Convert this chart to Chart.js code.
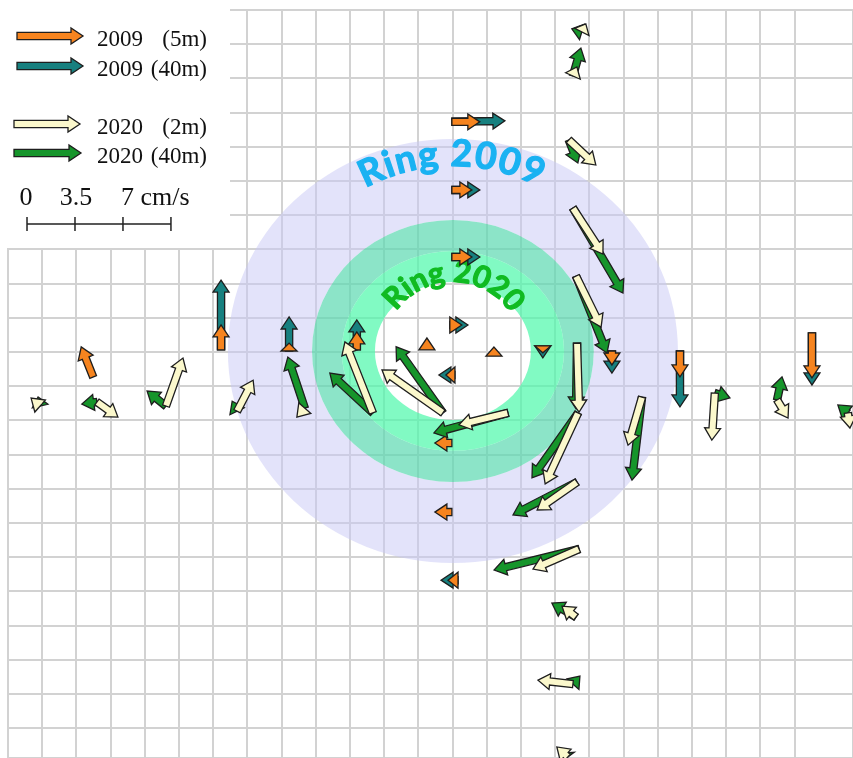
<!DOCTYPE html>
<html>
<head>
<meta charset="utf-8">
<title>Current vectors 2009 / 2020</title>
<script src="https://cdn.jsdelivr.net/npm/chart.js@4.4.1/dist/chart.umd.min.js"></script>
<style>
    html, body { margin: 0; padding: 0; background: #fff; }
    #wrap { width: 853px; height: 758px; position: relative; }
</style>
</head>
<body>
<div id="wrap"><canvas id="chart"></canvas></div>
<script>
// grid extent (cells), x from the left edge, y from the top edge
const X_MAX = 24.71;
const Y_MAX = 21.87;

// 2009 stations (grid cells) and velocities (cm/s, u = east, v = north)
const x2009 = [6.23, 8.22, 10.20, 2.49, 12.25, 12.92, 14.21, 15.64, 13.07, 12.98, 12.98, 13.16, 12.98, 12.98, 12.98, 17.66, 19.65, 23.51];
const y2009 = [9.94, 9.97, 9.94, 10.73, 9.94, 9.21, 10.12, 9.82, 10.67, 12.66, 14.68, 16.67, 3.27, 5.26, 7.22, 9.97, 9.97, 9.44];
const u2009_5m = [0, 0, 0, -0.87, 0, 0.87, 0, 0, -0.66, -1.24, -1.24, -0.73, 2.04, 1.46, 1.46, 0, 0, 0];
const v2009_5m = [1.83, 0.58, 1.32, 2.19, 0.87, 0, 0.66, -0.51, 0, 0, 0, 0, 0, 0, 0, -1.02, -1.89, -3.28];
const u2009_40m = [0, 0, 0, null, null, 1.32, null, 0, -1.17, null, null, -1.24, 3.87, 2.04, 2.04, 0, 0, 0];
const v2009_40m = [5.10, 2.48, 2.19, null, null, 0, null, -0.87, 0, null, null, 0, 0.07, 0, 0, -1.61, -4.08, -3.80];

// 2020 stations and velocities
const x2020 = [0.94, 2.60, 4.62, 6.70, 8.68, 10.67, 12.72, 14.62, 16.64, 16.67, 18.54, 16.64, 16.70, 16.61, 16.52, 16.37, 16.78, 16.52, 16.40, 16.52, 16.61, 20.67, 22.49, 24.56];
const y2020 = [11.58, 11.46, 11.58, 11.73, 11.64, 11.78, 11.78, 11.78, 9.74, 11.78, 11.32, 13.80, 15.76, 17.75, 19.71, 21.84, 0.64, 1.93, 3.80, 5.79, 7.78, 11.20, 11.40, 11.78];
const u2020_2m = [-0.66, 1.53, 1.24, 1.17, -0.58, -2.04, -4.45, -3.57, 0.15, -2.40, -1.02, -2.91, -3.36, -1.02, -2.55, -0.80, 0.29, 0.29, 1.97, 2.19, 1.83, -0.22, 0.80, 0.15];
const v2020_2m = [0.58, -1.10, 3.50, 2.26, -0.66, 5.18, 3.14, -0.87, -5.03, -5.18, -3.50, -2.04, -1.46, 0.80, 0.29, 0.73, 0.58, 0.66, -1.83, -3.36, -3.72, -3.43, -1.32, -1.10];
const u2020_40m = [-0.15, -1.10, -1.38, -0.36, -1.24, -3.14, -3.42, -5.40, -0.07, -3.36, -0.73, -4.67, -6.20, -1.76, 0.51, -0.22, -0.73, 0.58, 0.66, 3.65, 2.26, 1.10, 0.36, -0.73];
const v2020_40m = [0.66, -0.15, 1.10, 0.73, 3.72, 2.91, 4.82, -1.46, -4.80, -4.74, -6.05, -2.40, -1.53, 1.02, 0.58, 0.30, 0.22, 2.04, -1.68, -6.20, -5.61, -0.36, 1.68, 0.58];

// rings: common centre and radii (grid cells), outermost first
const ringCenter = [13.01, 9.97];
const ringRx = [6.58, 4.12, 3.25, 2.28];
const ringRy = [6.20, 3.83, 2.92, 2.02];
const ringColors = ["rgba(200,200,246,0.5)", "rgba(91,216,176,0.7)", "rgba(76,248,169,0.7)"];

// scale bar: ticks every 3.5 cm/s, 1.403 cells apart
const scaleTicks = [0, 3.5, 7, 10.5];
const scaleLabels = ["0", "3.5", "7 cm/s"];
const K = 1.403 / 3.5;

const COLORS = {
    orange: "#f6841f",
    teal: "#17807f",
    cream: "#fbf8cc",
    green: "#16952b",
};

function drawArrow(ctx, x0, y0, x1, y1, fill) {
    const dx = x1 - x0;
    const dy = y1 - y0;
    const len = Math.hypot(dx, dy);
    if(len < 0.5) return;
    const hl = Math.min(12, len);
    const hw = 8;
    const sw = 3.6;

    ctx.save();
    ctx.translate(x0, y0);
    ctx.rotate(Math.atan2(dy, dx));
    ctx.beginPath();
    if(len > hl) {
        ctx.moveTo(0, -sw);
        ctx.lineTo(len - hl, -sw);
        ctx.lineTo(len - hl, -hw);
        ctx.lineTo(len, 0);
        ctx.lineTo(len - hl, hw);
        ctx.lineTo(len - hl, sw);
        ctx.lineTo(0, sw);
    } else {
        ctx.moveTo(0, -hw);
        ctx.lineTo(len, 0);
        ctx.lineTo(0, hw);
    }
    ctx.closePath();
    ctx.fillStyle = fill;
    ctx.fill();
    ctx.lineWidth = 1.3;
    ctx.lineJoin = "miter";
    ctx.strokeStyle = "#1e1e1e";
    ctx.stroke();
    ctx.restore();
}

function drawArcText(ctx, text, cx, cy, r, midDeg, spanDeg, font, color) {
    ctx.save();
    ctx.font = font;
    ctx.fillStyle = color;
    ctx.strokeStyle = color;
    ctx.lineWidth = 1.2;
    ctx.lineJoin = "round";
    ctx.textAlign = "center";
    ctx.textBaseline = "alphabetic";
    const chars = [...text];
    const widths = chars.map(c => ctx.measureText(c).width);
    const total = widths.reduce((a, b) => a + b, 0);
    const span = spanDeg * Math.PI / 180;
    const start = midDeg * Math.PI / 180 - span / 2;
    let acc = 0;
    for(let i = 0; i < chars.length; i++) {
        const a = start + (acc + widths[i] / 2) / total * span;
        acc += widths[i];
        ctx.save();
        ctx.translate(cx + r * Math.sin(a), cy - r * Math.cos(a));
        ctx.rotate(a);
        ctx.fillText(chars[i], 0, 0);
        // a thin stroke of the same colour makes the face as heavy as the original
        ctx.strokeText(chars[i], 0, 0);
        ctx.restore();
    }
    ctx.restore();
}

function series(label, xs, ys, us, vs, color) {
    const data = [];
    for(let i = 0; i < xs.length; i++) {
        if(us[i] === null) continue;
        data.push({ x: xs[i], y: ys[i], u: us[i], v: vs[i] });
    }
    return { label, data, arrowColor: color, pointRadius: 0, pointHoverRadius: 0, showLine: false };
}

const backdrop = {
    id: "backdrop",
    beforeDatasetsDraw(chart) {
        const { ctx, scales } = chart;
        const sx = scales.x;
        const sy = scales.y;

        // legend panel hides the grid in the top-left corner
        ctx.save();
        ctx.fillStyle = "#fff";
        ctx.fillRect(0, 0, 230, 248);

        const cx = sx.getPixelForValue(ringCenter[0]);
        const cy = sy.getPixelForValue(ringCenter[1]);
        const rx = ringRx.map(r => sx.getPixelForValue(ringCenter[0] + r) - cx);
        const ry = ringRy.map(r => sy.getPixelForValue(ringCenter[1] + r) - cy);
        for(let i = 0; i < ringColors.length; i++) {
            ctx.beginPath();
            ctx.ellipse(cx, cy, rx[i], Math.abs(ry[i]), 0, 0, Math.PI * 2);
            ctx.ellipse(cx, cy, rx[i + 1], Math.abs(ry[i + 1]), 0, 0, Math.PI * 2);
            ctx.fillStyle = ringColors[i];
            ctx.fill("evenodd");
        }
        ctx.restore();

        drawArcText(ctx, "Ring 2009", cx, cy, 185, -0.5, 56, "bold 37px Lato", "#1ab2f2");
        drawArcText(ctx, "Ring 2020", cx, cy, 69, 1, 112, "bold 30px Lato", "#11bb22");
    },
};

const arrows = {
    id: "arrows",
    afterDatasetsDraw(chart) {
        const { ctx, scales } = chart;
        chart.data.datasets.forEach((ds, i) => {
            const meta = chart.getDatasetMeta(i);
            ds.data.forEach((p, j) => {
                const el = meta.data[j];
                const hx = scales.x.getPixelForValue(p.x + p.u * K);
                const hy = scales.y.getPixelForValue(p.y - p.v * K);
                drawArrow(ctx, el.x, el.y, hx, hy, ds.arrowColor);
            });
        });
    },
};

const legendPanel = {
    id: "legendPanel",
    afterDraw(chart) {
        const { ctx, scales } = chart;
        const items = [
            { color: COLORS.orange, year: "2009", depth: "(5m)", x0: 17, x1: 83, y: 36 },
            { color: COLORS.teal, year: "2009", depth: "(40m)", x0: 17, x1: 83, y: 66 },
            { color: COLORS.cream, year: "2020", depth: "(2m)", x0: 14, x1: 80, y: 124 },
            { color: COLORS.green, year: "2020", depth: "(40m)", x0: 14, x1: 81, y: 153 },
        ];
        ctx.save();
        ctx.font = "23px 'Liberation Serif'";
        ctx.fillStyle = "#111";
        ctx.textBaseline = "alphabetic";
        items.forEach(it => {
            drawArrow(ctx, it.x0, it.y, it.x1, it.y, it.color);
            ctx.textAlign = "left";
            ctx.fillText(it.year, 97, it.y + 10);
            ctx.textAlign = "right";
            ctx.fillText(it.depth, 207, it.y + 10);
        });

        // scale bar, measured with the x scale
        const x0 = scales.x.getPixelForValue(0.556);
        const px = scaleTicks.map(t => x0 + (scales.x.getPixelForValue(t * K) - scales.x.getPixelForValue(0)));
        const yb = 224;
        ctx.strokeStyle = "#222";
        ctx.lineWidth = 1.5;
        ctx.beginPath();
        ctx.moveTo(px[0], yb);
        ctx.lineTo(px[px.length - 1], yb);
        px.forEach(p => {
            ctx.moveTo(p, yb - 7);
            ctx.lineTo(p, yb + 7);
        });
        ctx.stroke();

        ctx.font = "26px 'Liberation Serif'";
        ctx.textAlign = "center";
        ctx.fillText(scaleLabels[0], px[0] - 1, 205);
        ctx.fillText(scaleLabels[1], px[1] + 1, 205);
        ctx.textAlign = "left";
        ctx.fillText(scaleLabels[2], px[2] - 2, 205);
        ctx.restore();
    },
};

const gridOpts = {
    color: "#d2d2d2",
    lineWidth: 2,
    drawTicks: false,
};

new Chart(document.getElementById("chart"), {
    type: "scatter",
    data: {
        datasets: [
            series("2009 (40m)", x2009, y2009, u2009_40m, v2009_40m, COLORS.teal),
            series("2009 (5m)", x2009, y2009, u2009_5m, v2009_5m, COLORS.orange),
            series("2020 (40m)", x2020, y2020, u2020_40m, v2020_40m, COLORS.green),
            series("2020 (2m)", x2020, y2020, u2020_2m, v2020_2m, COLORS.cream),
        ],
    },
    options: {
        responsive: true,
        maintainAspectRatio: false,
        animation: false,
        events: [],
        layout: { padding: { left: 8, top: 10, right: 0, bottom: 0 } },
        plugins: {
            legend: { display: false },
            tooltip: { enabled: false },
        },
        scales: {
            x: {
                type: "linear",
                min: 0,
                max: X_MAX,
                ticks: { display: false, stepSize: 1 },
                grid: gridOpts,
                border: { display: false },
            },
            y: {
                type: "linear",
                reverse: true,
                min: 0,
                max: Y_MAX,
                ticks: { display: false, stepSize: 1 },
                grid: gridOpts,
                border: { display: false },
            },
        },
    },
    plugins: [backdrop, arrows, legendPanel],
});
</script>
</body>
</html>
